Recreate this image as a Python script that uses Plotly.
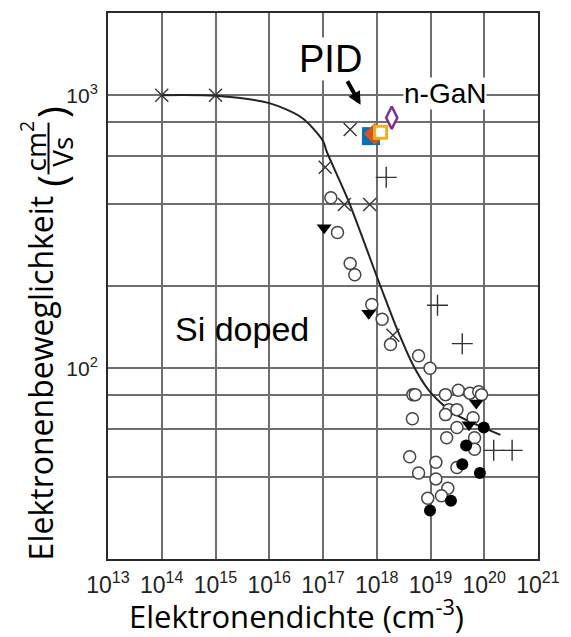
import math
import plotly.graph_objects as go

# ---- data -------------------------------------------------------------
# Si-doped GaN: electron mobility (cm^2/Vs) vs. electron density (cm^-3)
cross_n = [1e14, 1e15, 3.2e17, 1.1e17, 2.5e17, 7.4e17, 2.0e18]
cross_mu = [1000, 1000, 748, 545, 398, 398, 132]

plus_n = [1.5e18, 1.35e19, 3.9e19, 1.5e20, 3.3e20]
plus_mu = [500, 170, 123, 50, 50]

tri_n = [1.05e17, 7.1e17, 7.1e19, 5.2e19]
tri_mu = [327, 159, 74.5, 62]

open_n = [1.4e17, 1.86e17, 3.2e17, 3.9e17, 8.1e17, 1.26e18, 1.8e18,
          6.0e18, 9.8e18, 4.7e18, 5.2e18, 1.9e19, 3.3e19, 5.4e19, 7.9e19,
          8.9e19, 2.2e19, 3.1e19, 1.9e19, 6.2e19, 4.6e18, 3.1e19, 6.6e19,
          2.0e19, 6.6e19, 4.1e18, 1.26e19, 6.0e18, 1.26e19, 3.1e19, 2.1e19,
          1.6e19, 8.9e18]
open_mu = [421, 314, 242, 220, 171, 151, 122,
           111, 100, 80, 80, 80, 83, 81, 82,
           80, 70.5, 70.5, 67.6, 65.8, 65.3, 60.6, 55.6,
           55.6, 50.5, 47.4, 45.2, 41.3, 39.3, 43.3, 36.3,
           34.1, 33.4]

filled_n = [9.8e19, 4.6e19, 3.9e19, 8.3e19, 2.4e19, 9.8e18]
filled_mu = [60.6, 52.1, 44.5, 41.3, 32.7, 30.1]

# empirical mobility model curve
fit_n = [1e14, 1e15, 1e16, 4.1e16, 1e17, 1.17e17, 2.9e17, 1.17e18,
         2.5e18, 4.7e18, 9.3e18, 2.5e19, 6.6e19, 2.0e20]
fit_mu = [1000, 995, 935, 825, 680, 622, 415, 200,
          136, 103, 83, 69, 62.5, 57]

# PID results (n-GaN)
pid_n = [7.8e17, 9.2e17, 1.18e18, 1.9e18]
pid_mu = [708, 721, 731, 827]

x_exponents = list(range(13, 22))
y_exponents = [2, 3]
y_minor = [40, 60, 80, 200, 400, 600, 800]

# ---- styling ----------------------------------------------------------
W, H = 571, 637
ML, MR, MT, MB = 108, 22, 11, 78
PW, PH = W - ML - MR, H - MT - MB

GRID = "#6e6e6e"
INK = "#2b2b2b"
SANS = "Liberation Sans"
TITLEFONT = "Open Sans"


def px(x):
    return (x - ML) / PW


def py(y):
    return (MT + PH - y) / PH


fig = go.Figure()

fig.add_trace(go.Scatter(x=fit_n, y=fit_mu, mode="lines",
                         line=dict(color="#222", width=2, shape="spline", smoothing=0.8),
                         hoverinfo="skip"))
fig.add_trace(go.Scatter(x=cross_n, y=cross_mu, mode="markers",
                         marker=dict(symbol="x-thin-open", size=13, color="#333",
                                     line=dict(color="#333", width=1.4))))
fig.add_trace(go.Scatter(x=plus_n, y=plus_mu, mode="markers",
                         marker=dict(symbol="cross-thin-open", size=15, color="#333",
                                     line=dict(color="#333", width=1.4))))
fig.add_trace(go.Scatter(x=open_n, y=open_mu, mode="markers",
                         marker=dict(symbol="circle", size=12, color="white",
                                     line=dict(color="#444", width=1.5))))
fig.add_trace(go.Scatter(x=filled_n, y=filled_mu, mode="markers",
                         marker=dict(symbol="circle", size=12, color="black",
                                     line=dict(width=0))))
fig.add_trace(go.Scatter(x=tri_n, y=tri_mu, mode="markers",
                         marker=dict(symbol="triangle-down", size=13, color="black",
                                     line=dict(width=0))))

pid_style = [
    dict(symbol="square", size=18, color="#0072BD", line=dict(width=0)),
    dict(symbol="diamond", size=17, color="#D95319", line=dict(width=0)),
    dict(symbol="square", size=12, color="white", line=dict(color="#EDB120", width=3)),
    dict(symbol="diamond-tall", size=16, color="white", line=dict(color="#7E2F8E", width=2.5)),
]
for n, mu, st in zip(pid_n, pid_mu, pid_style):
    fig.add_trace(go.Scatter(x=[n], y=[mu], mode="markers", marker=st))

fig.update_layout(
    width=W, height=H,
    margin=dict(l=ML, r=MR, t=MT, b=MB),
    paper_bgcolor="white", plot_bgcolor="white",
    showlegend=False,
)

# axes: ticks drawn from the exponent lists, exponent shown as superscript
fig.update_xaxes(
    type="log", range=[13, 21],
    tickmode="array", tickvals=[10.0 ** k for k in x_exponents],
    ticktext=[f"10<sup>{k}</sup>" for k in x_exponents],
    tickfont=dict(family=SANS, size=23, color="#222"), tickangle=0,
    ticks="", ticklabelstandoff=4,
    showgrid=True, gridcolor=GRID, gridwidth=1.5,
    showline=True, linecolor=INK, linewidth=1.8, mirror=True,
    zeroline=False,
)
fig.update_yaxes(
    type="log", range=[math.log10(20), math.log10(2000)],
    tickmode="array", tickvals=[10.0 ** k for k in y_exponents],
    ticktext=[f"10<sup>{k}</sup>" for k in y_exponents],
    tickfont=dict(family=SANS, size=21, color="#222"), ticks="", ticklabelstandoff=4,
    showgrid=True, gridcolor=GRID, gridwidth=1.5,
    minor=dict(tickmode="array", tickvals=y_minor, showgrid=True,
               gridcolor=GRID, gridwidth=1.5, ticks=""),
    showline=True, linecolor=INK, linewidth=1.8, mirror=True,
    zeroline=False,
)

ann = []
# labels inside the plot
ann.append(dict(text="PID", x=px(336), y=py(57), xref="paper", yref="paper",
                showarrow=False, xanchor="center", yanchor="middle",
                bgcolor="white", borderpad=0,
                font=dict(family=SANS, size=38, color="black")))
ann.append(dict(text="", x=math.log10(5.0e17), y=math.log10(922), xref="x", yref="y",
                showarrow=True, ax=-14, ay=-25, arrowhead=2, arrowsize=0.65,
                arrowwidth=4, arrowcolor="black"))
ann.append(dict(text="n-GaN", x=px(454), y=py(92), xref="paper", yref="paper",
                showarrow=False, xanchor="center", yanchor="middle",
                bgcolor="white", borderpad=0,
                font=dict(family=SANS, size=28, color="black")))
ann.append(dict(text="Si doped", x=px(245), y=py(328), xref="paper", yref="paper",
                showarrow=False, xanchor="center", yanchor="middle",
                font=dict(family=SANS, size=34, color="black")))

# axis titles
ann.append(dict(text="Elektronendichte (cm<sup>-3</sup>)", x=px(301), y=py(615),
                xref="paper", yref="paper", showarrow=False,
                xanchor="center", yanchor="middle",
                font=dict(family=TITLEFONT, size=31, color="black")))
ann.append(dict(text="Elektronenbeweglichkeit", x=px(39), y=py(377),
                xref="paper", yref="paper", showarrow=False, textangle=-90,
                xanchor="center", yanchor="middle",
                font=dict(family=TITLEFONT, size=32, color="black")))
ann.append(dict(text="(", x=px(50), y=py(179), xref="paper", yref="paper",
                showarrow=False, textangle=-90, xanchor="center", yanchor="middle",
                font=dict(family=TITLEFONT, size=40, color="black")))
ann.append(dict(text=")", x=px(50), y=py(110), xref="paper", yref="paper",
                showarrow=False, textangle=-90, xanchor="center", yanchor="middle",
                font=dict(family=TITLEFONT, size=40, color="black")))
ann.append(dict(text="cm<sup>2</sup>", x=px(32), y=py(144), xref="paper", yref="paper",
                showarrow=False, textangle=-90, xanchor="center", yanchor="middle",
                font=dict(family=TITLEFONT, size=28, color="black")))
ann.append(dict(text="Vs", x=px(61), y=py(150), xref="paper", yref="paper",
                showarrow=False, textangle=-90, xanchor="center", yanchor="middle",
                font=dict(family=TITLEFONT, size=28, color="black")))
fig.update_layout(annotations=ann)

# fraction bar of the unit
fig.add_shape(type="line", xref="paper", yref="paper",
              x0=px(47), x1=px(47), y0=py(121), y1=py(173),
              line=dict(color="black", width=2))

fig.write_html("out.html")
